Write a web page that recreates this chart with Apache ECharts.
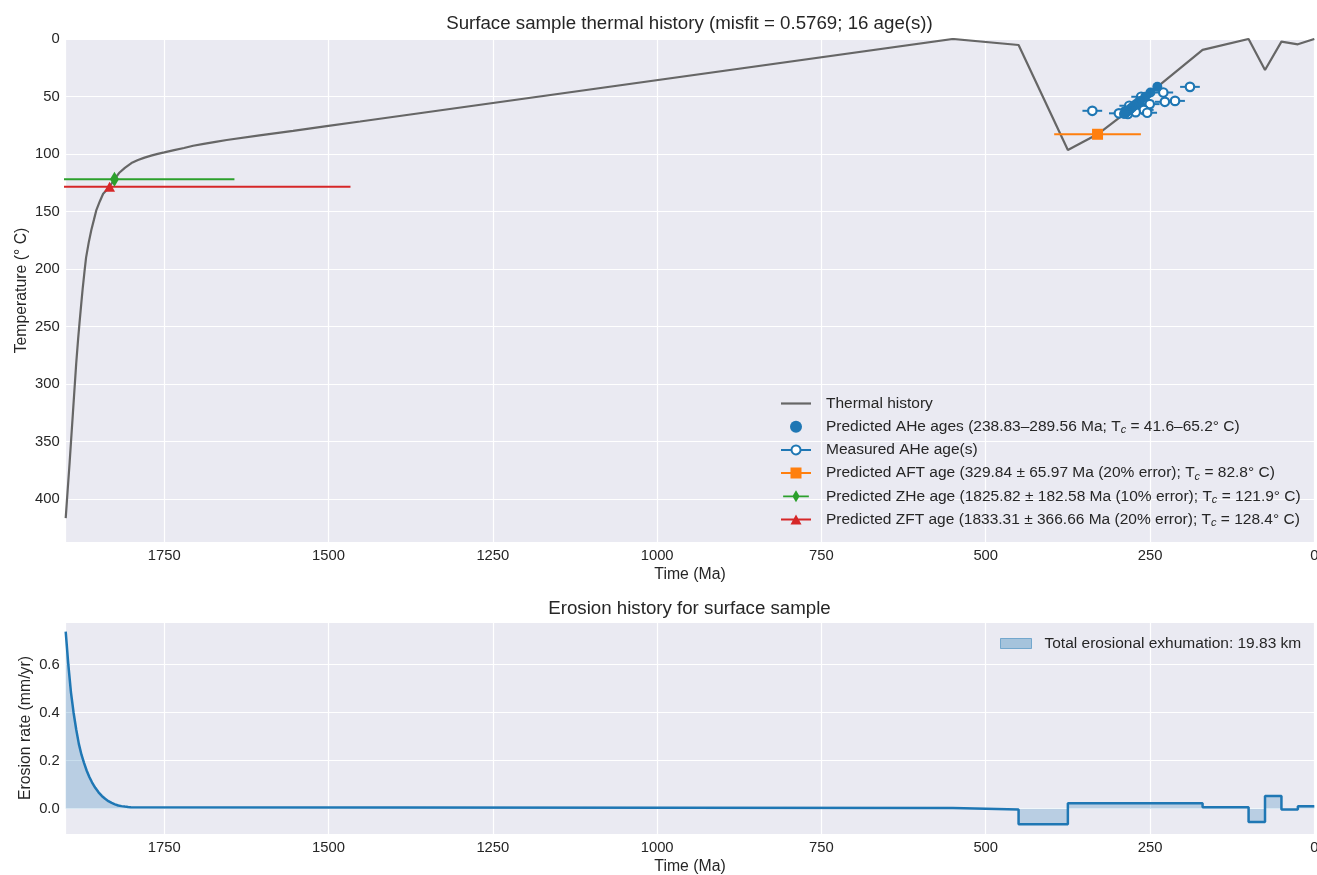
<!DOCTYPE html>
<html>
<head>
<meta charset="utf-8">
<script src="https://cdn.jsdelivr.net/npm/echarts@6/dist/echarts.min.js"></script>
<style>
  html, body { margin: 0; padding: 0; background: #ffffff; overflow: hidden; }
  #chart { width: 1317px; height: 875px; }
</style>
</head>
<body>
<div id="chart"></div>
<script>
// ---- Thermal history of the surface sample (time in Ma, temperature in °C) ----
const thermalTime = [1900, 1897, 1894, 1891, 1889, 1886, 1884, 1881, 1879, 1876, 1874, 1871, 1869, 1865, 1861, 1857,
  1853.5, 1848, 1843, 1838, 1833.31, 1825.82, 1818, 1810, 1800, 1790, 1780, 1770, 1760, 1750, 1735, 1720, 1706, 1690,
  1672, 1655, 1605, 1554, 1503, 1452, 550, 450, 375, 350, 329.84, 289.56, 238.83, 170, 100, 75, 50, 25, 0];
const thermalTemp = [416.4, 392, 368, 342, 325, 299, 282, 260, 247, 228, 216, 200, 190, 177, 166, 157,
  149, 141, 134.5, 131.4, 128.4, 121.9, 116, 112, 107.8, 105.2, 103.1, 101.4, 99.9, 98.6, 96.6, 94.7, 92.8, 91.1,
  89.4, 87.8, 83.8, 79.8, 75.7, 71.7, 0, 5.2, 96.5, 88.9, 82.8, 65.2, 41.6, 9.5, 0, 27, 2.3, 4.6, 0];

// ---- Apatite (U-Th)/He ages: closure temperature, predicted and measured ages ----
const aheTc        = [41.6, 46.5, 50.2, 53.8, 54.6, 56.6, 58.0, 59.4, 60.5, 61.6, 62.4, 63.1, 63.6, 64.1, 64.6, 65.2];
const ahePredicted = [238.83, 249.35, 257.3, 265.0, 266.8, 271.1, 274.1, 277.1, 279.5, 281.8, 283.5, 285.0, 286.1, 287.2, 288.3, 289.56];
const aheMeasured  = [189.2, 229.8, 263.5, 211.9, 227.4, 250.4, 281.6, 269.5, 277.5, 259.5, 337.8, 288.2, 271.8, 254.3, 297.4, 283.7];
const aheMeasErr   = [15, 15, 15, 15, 15, 15, 15, 15, 15, 15, 15, 15, 15, 15, 15, 15];

// ---- Other predicted ages: [age (Ma), error (Ma), closure temperature (°C)] ----
const aftAge = [329.84, 65.97, 82.8];
const zheAge = [1825.82, 182.58, 121.9];
const zftAge = [1833.31, 366.66, 128.4];

// ---- Erosion history (mm/yr) ----
const erosionDecayTime = [1900, 1896, 1892, 1888, 1884, 1880, 1876, 1872, 1868, 1864, 1860, 1855, 1850, 1845, 1840,
  1835, 1830, 1825, 1820, 1815, 1810, 1805, 1801];
const erosionDecayRate = [0.738, 0.60, 0.485, 0.40, 0.33, 0.27, 0.225, 0.19, 0.158, 0.132, 0.11, 0.087, 0.068, 0.053, 0.041,
  0.031, 0.024, 0.018, 0.013, 0.0105, 0.0085, 0.007, 0.006];
const erosionStepEdges = [1800, 550, 450, 375, 170, 100, 75, 50, 25, 0];
const erosionStepRates = [0.0025, -0.004, -0.0655, 0.022, 0.0054, -0.056, 0.0525, -0.004, 0.0096];
const totalExhumationKm = 19.83;

// ---- Axis ticks ----
const timeTicks = [0, 250, 500, 750, 1000, 1250, 1500, 1750];
const tempTicks = [0, 50, 100, 150, 200, 250, 300, 350, 400];
const rateTicks = [0, 0.2, 0.4, 0.6];

// ---- Labels ----
const titleTop = 'Surface sample thermal history (misfit = 0.5769; 16 age(s))';
const titleBottom = 'Erosion history for surface sample';
const nameThermal = 'Thermal history';
const namePredAHe = 'Predicted AHe ages';
const nameMeasAHe = 'Measured AHe age(s)';
const namePredAFT = 'Predicted AFT age';
const namePredZHe = 'Predicted ZHe age';
const namePredZFT = 'Predicted ZFT age';
const nameErosion = 'Total erosional exhumation: ' + totalExhumationKm.toFixed(2) + ' km';

const legendRich = {};
legendRich[nameThermal] = '{n|Thermal history}';
legendRich[namePredAHe] = '{n|Predicted AHe ages (238.83–289.56 Ma; T}{s|c}{n| = 41.6–65.2° C)}';
legendRich[nameMeasAHe] = '{n|Measured AHe age(s)}';
legendRich[namePredAFT] = '{n|Predicted AFT age (329.84 ± 65.97 Ma (20% error); T}{s|c}{n| = 82.8° C)}';
legendRich[namePredZHe] = '{n|Predicted ZHe age (1825.82 ± 182.58 Ma (10% error); T}{s|c}{n| = 121.9° C)}';
legendRich[namePredZFT] = '{n|Predicted ZFT age (1833.31 ± 366.66 Ma (20% error); T}{s|c}{n| = 128.4° C)}';

const FONT = '"Liberation Sans", Arial, Helvetica, sans-serif';
const TEXT = '#262626';
const C_BLUE = '#1f77b4', C_ORANGE = '#ff7f0e', C_GREEN = '#2ca02c', C_RED = '#d62728', C_GRAY = '#666666';
const FILL_BLUE = 'rgba(31,119,180,0.34)';
const FS_TICK = 14.8, FS_LEGEND = 15.5, FS_NAME = 15.8, FS_TITLE = 18.7;

// plot area placement shared by both panels
const PLOT_LEFT = 65.7, PLOT_WIDTH = 1248.6;

const zip = (a, b) => a.map((v, i) => [v, b[i]]);
const isTick = (list, v) => list.some(t => Math.abs(t - v) < 1e-9);

// erosion step line: decay segment followed by constant-rate intervals
const erosionLine = zip(erosionDecayTime, erosionDecayRate);
for (let i = 0; i < erosionStepRates.length; i++) {
  erosionLine.push([erosionStepEdges[i], erosionStepRates[i]]);
  erosionLine.push([erosionStepEdges[i + 1], erosionStepRates[i]]);
}

const axisLabelStyle = { color: TEXT, fontFamily: FONT, fontSize: FS_TICK };
const splitLineStyle = { show: true, lineStyle: { color: '#ffffff', width: 1.2 } };
const nameStyle = { color: TEXT, fontFamily: FONT, fontSize: FS_NAME };

function timeAxis(gridIndex) {
  return {
    type: 'value', gridIndex: gridIndex, min: 0, max: 1900, interval: 250, inverse: true,
    name: 'Time (Ma)', nameLocation: 'middle', nameGap: 25, nameMoveOverlap: false, nameTextStyle: nameStyle,
    axisLine: { show: false }, axisTick: { show: false },
    axisLabel: Object.assign({ margin: 6, formatter: v => isTick(timeTicks, v) ? String(v) : '' }, axisLabelStyle),
    splitLine: splitLineStyle
  };
}

function errorBar(name, rec, color) {
  return {
    name: name + ' error', type: 'line', xAxisIndex: 0, yAxisIndex: 0, silent: true, clip: true,
    symbol: 'none', z: 3,
    lineStyle: { color: color, width: 2 },
    data: [[rec[0] - rec[1], rec[2]], [rec[0] + rec[1], rec[2]]]
  };
}

const chart = echarts.init(document.getElementById('chart'), null, { renderer: 'canvas' });

chart.setOption({
  animation: false,
  backgroundColor: '#ffffff',
  textStyle: { fontFamily: FONT },
  title: [
    { text: titleTop, left: 684.5, top: 9, textAlign: 'center',
      textStyle: { color: TEXT, fontFamily: FONT, fontSize: FS_TITLE, fontWeight: 'normal' } },
    { text: titleBottom, left: 684.5, top: 594, textAlign: 'center',
      textStyle: { color: TEXT, fontFamily: FONT, fontSize: FS_TITLE, fontWeight: 'normal' } }
  ],
  grid: [
    { left: PLOT_LEFT, width: PLOT_WIDTH, top: 39, height: 503, outerBoundsMode: 'none',
      show: true, backgroundColor: '#eaeaf2', borderWidth: 0 },
    { left: PLOT_LEFT, width: PLOT_WIDTH, top: 622, height: 212, outerBoundsMode: 'none',
      show: true, backgroundColor: '#eaeaf2', borderWidth: 0 }
  ],
  xAxis: [timeAxis(0), timeAxis(1)],
  yAxis: [
    {
      type: 'value', gridIndex: 0, min: 0, max: 437.2, interval: 50, inverse: true,
      name: 'Temperature (° C)', nameLocation: 'middle', nameGap: 36, nameMoveOverlap: false, nameTextStyle: nameStyle,
      axisLine: { show: false }, axisTick: { show: false },
      axisLabel: Object.assign({ margin: 6, formatter: v => isTick(tempTicks, v) ? String(v) : '' }, axisLabelStyle),
      splitLine: splitLineStyle
    },
    {
      type: 'value', gridIndex: 1, min: -0.1057, max: 0.7782, splitNumber: 5,
      name: 'Erosion rate (mm/yr)', nameLocation: 'middle', nameGap: 32, nameMoveOverlap: false, nameTextStyle: nameStyle,
      axisLine: { show: false }, axisTick: { show: false },
      axisLabel: Object.assign({ margin: 6, formatter: v => isTick(rateTicks, v) ? v.toFixed(1) : '' }, axisLabelStyle),
      splitLine: splitLineStyle
    }
  ],
  legend: [
    {
      orient: 'vertical', left: 775, top: 389.5, itemWidth: 30, itemHeight: 12, itemGap: 5.2,
      selectedMode: false,
      formatter: name => legendRich[name],
      textStyle: {
        color: TEXT, fontFamily: FONT, fontSize: FS_LEGEND, lineHeight: 18, padding: [0, 0, 0, 10],
        rich: {
          n: { color: TEXT, fontFamily: FONT, fontSize: FS_LEGEND, lineHeight: 18 },
          s: { color: TEXT, fontFamily: FONT, fontSize: 11, fontStyle: 'italic', lineHeight: 10, verticalAlign: 'bottom' }
        }
      },
      data: [
        { name: nameThermal, icon: 'path://M0,0h30v2.2h-30z', itemStyle: { color: C_GRAY, borderWidth: 0 } },
        { name: namePredAHe, icon: 'circle', itemStyle: { color: C_BLUE, borderWidth: 0 } },
        { name: nameMeasAHe, icon: 'path://M0,6h10M20,6h10M15,1.5a4.5,4.5 0 1,0 0.01,0z',
          itemStyle: { color: '#ffffff', borderColor: C_BLUE, borderWidth: 2 } },
        { name: namePredAFT, icon: 'path://M0,5h30v2h-30z M9.5,0.5h11v11h-11z', itemStyle: { color: C_ORANGE, borderWidth: 0 } },
        { name: namePredZHe, icon: 'path://M0,5h30v2h-30z M15,-1l4.2,7l-4.2,7l-4.2,-7z', itemStyle: { color: C_GREEN, borderWidth: 0 } },
        { name: namePredZFT, icon: 'path://M0,5h30v2h-30z M15,1l5.5,10h-11z', itemStyle: { color: C_RED, borderWidth: 0 } }
      ]
    },
    {
      orient: 'vertical', left: 995, top: 629.5, itemWidth: 31, itemHeight: 10,
      selectedMode: false,
      textStyle: { color: TEXT, fontFamily: FONT, fontSize: FS_LEGEND, lineHeight: 18, padding: [0, 0, 0, 8] },
      data: [
        { name: nameErosion, icon: 'rect',
          itemStyle: { color: FILL_BLUE, borderColor: 'rgba(31,119,180,0.5)', borderWidth: 1 } }
      ]
    }
  ],
  series: [
    {
      name: nameThermal, type: 'line', xAxisIndex: 0, yAxisIndex: 0, z: 2,
      symbol: 'none', smooth: false, silent: true,
      lineStyle: { color: C_GRAY, width: 2.2 },
      itemStyle: { color: C_GRAY },
      data: zip(thermalTime, thermalTemp)
    },
    {
      name: 'Measured AHe error', type: 'custom', xAxisIndex: 0, yAxisIndex: 0, z: 3, silent: true,
      data: aheMeasured.map((a, i) => [a - aheMeasErr[i], a + aheMeasErr[i], aheTc[i]]),
      encode: { x: [0, 1], y: 2 },
      renderItem: function (params, api) {
        const p1 = api.coord([api.value(0), api.value(2)]);
        const p2 = api.coord([api.value(1), api.value(2)]);
        return { type: 'line', shape: { x1: p1[0], y1: p1[1], x2: p2[0], y2: p2[1] },
                 style: { stroke: C_BLUE, lineWidth: 2 } };
      }
    },
    {
      name: nameMeasAHe, type: 'scatter', xAxisIndex: 0, yAxisIndex: 0, z: 4, silent: true,
      symbol: 'circle', symbolSize: 8.5,
      itemStyle: { color: '#ffffff', borderColor: C_BLUE, borderWidth: 2.2, opacity: 1 },
      data: zip(aheMeasured, aheTc)
    },
    {
      name: namePredAHe, type: 'scatter', xAxisIndex: 0, yAxisIndex: 0, z: 5, silent: true,
      symbol: 'circle', symbolSize: 10,
      itemStyle: { color: C_BLUE, opacity: 1 },
      data: zip(ahePredicted, aheTc)
    },
    errorBar(namePredAFT, aftAge, C_ORANGE),
    errorBar(namePredZHe, zheAge, C_GREEN),
    errorBar(namePredZFT, zftAge, C_RED),
    {
      name: namePredAFT, type: 'scatter', xAxisIndex: 0, yAxisIndex: 0, z: 5, silent: true,
      symbol: 'rect', symbolSize: 11, itemStyle: { color: C_ORANGE, opacity: 1 },
      data: [[aftAge[0], aftAge[2]]]
    },
    {
      name: namePredZHe, type: 'scatter', xAxisIndex: 0, yAxisIndex: 0, z: 5, silent: true,
      symbol: 'diamond', symbolSize: [9, 15], itemStyle: { color: C_GREEN, opacity: 1 },
      data: [[zheAge[0], zheAge[2]]]
    },
    {
      name: namePredZFT, type: 'scatter', xAxisIndex: 0, yAxisIndex: 0, z: 5, silent: true,
      symbol: 'triangle', symbolSize: [11, 10], itemStyle: { color: C_RED, opacity: 1 },
      data: [[zftAge[0], zftAge[2]]]
    },
    {
      name: nameErosion, type: 'line', xAxisIndex: 1, yAxisIndex: 1, z: 2,
      symbol: 'none', silent: true,
      lineStyle: { color: C_BLUE, width: 2.5 },
      itemStyle: { color: C_BLUE },
      areaStyle: { color: FILL_BLUE, origin: 0 },
      data: erosionLine
    }
  ]
});
</script>
</body>
</html>
